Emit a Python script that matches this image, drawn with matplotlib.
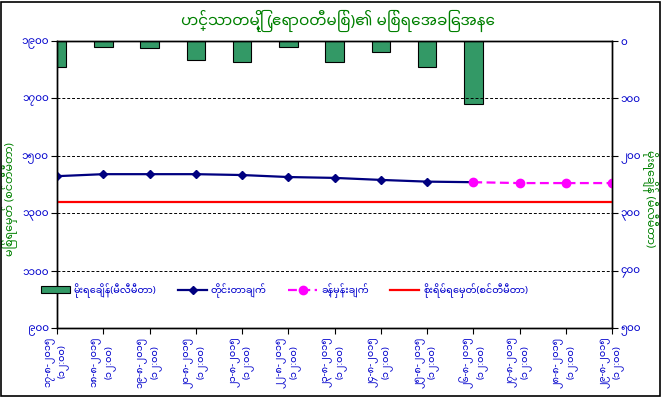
import numpy as np
import matplotlib
matplotlib.use("Agg")
from matplotlib import pyplot as plt
from matplotlib.patches import Rectangle

plt.rcParams['font.family'] = ['Noto Sans Myanmar', 'DejaVu Sans']

# data
days = ["၁၇", "၁၈", "၁၉", "၂၀", "၂၁", "၂၂", "၂၃", "၂၄", "၂၅", "၂၆", "၂၇", "၂၈", "၂၉"]
dates = [d + "-၈-၂၀၁၅\n(၁၂:၀၀)" for d in days]
rain = [46, 11, 13, 33, 37, 10, 37, 19, 45, 110]
level = [1429, 1436, 1436, 1436, 1433, 1426, 1423, 1416, 1410, 1408]
forecast = [1408, 1405, 1405, 1405]
danger = 1340

left_ticks = [900, 1100, 1300, 1500, 1700, 1900]
left_labels = ["၉၀၀", "၁၁၀၀", "၁၃၀၀", "၁၅၀၀", "၁၇၀၀", "၁၉၀၀"]
right_ticks = [0, 100, 200, 300, 400, 500]
right_labels = ["၀", "၁၀၀", "၂၀၀", "၃၀၀", "၄၀၀", "၅၀၀"]

title = "ဟင်္သာတမြို့ (ဧရာဝတီမြစ်)၏ မြစ်ရေအခြေအနေ"
left_title = "မြစ်ရေမှတ် (စင်တီမီတာ)"
right_title = "မိုးရေချိန် (မီလီမီတာ)"

green = "#008000"
blue = "#0000CC"

fig = plt.figure(figsize=(6.63, 3.99), dpi=100)
fig.patches.append(Rectangle((0.002, 0.008), 0.993, 0.988, transform=fig.transFigure,
                             fill=False, edgecolor="black", lw=1.2))
ax = fig.add_axes([57/663, 71/399, 555/663, 287/399])
ax2 = ax.twinx()

x = np.arange(len(dates))
bars = ax2.bar(x[:len(rain)], rain, width=0.4, color="#339966", edgecolor="black", lw=0.8,
               label="မိုးရေချိန်(မီလီမီတာ)")
ax2.set_ylim(500, 0)
ax2.set_yticks(right_ticks, right_labels)

l1, = ax.plot(x[:len(level)], level, color="#000080", marker="D", ms=4, lw=1.6,
              label="တိုင်းတာချက်")
l2, = ax.plot(x[len(level)-1:], forecast, color="#FF00FF", marker="o", ms=6, lw=1.6,
              ls=(0, (4, 2)), label="ခန့်မှန်းချက်")
l3 = ax.axhline(danger, color="#FF0000", lw=1.6, label="စိုးရိမ်ရေမှတ်(စင်တီမီတာ)")
ax.set_ylim(900, 1900)
ax.set_yticks(left_ticks, left_labels)
ax.set_xlim(0, 12)
ax.set_xticks(x, dates, rotation=90, fontsize=7, color=blue, linespacing=1.3)
ax.set_zorder(ax2.get_zorder() + 1)
ax.patch.set_visible(False)
ax2.patch.set_facecolor("#CCFFFF")
ax.grid(axis="y", ls=(0, (3, 2)), color="black", lw=0.7)

for a in (ax, ax2):
    a.tick_params(axis="y", labelsize=7.5, labelcolor=blue, length=4, pad=2)
    for s in a.spines.values():
        s.set_linewidth(1)
ax.tick_params(axis="x", length=4, pad=2)

ax.set_ylabel(left_title, color=green, fontsize=8, va="center")
ax.yaxis.set_label_coords(-0.084, 0.45)
ax2.set_ylabel(right_title, color=green, fontsize=8, rotation=-90, va="center")
ax2.yaxis.set_label_coords(1.068, 0.45)
fig.text(0.51, 0.948, title, color=green, fontsize=11, fontweight="bold", ha="center", va="center")

ax.legend([bars, l1, l2, l3], [bars.get_label(), l1.get_label(), l2.get_label(), l3.get_label()],
          loc="center", bbox_to_anchor=(0.41, 0.13), ncol=4, frameon=False, fontsize=7,
          labelcolor=blue, handlelength=3, columnspacing=2.2, handletextpad=0.4)

fig.savefig("out.png", dpi=100)
